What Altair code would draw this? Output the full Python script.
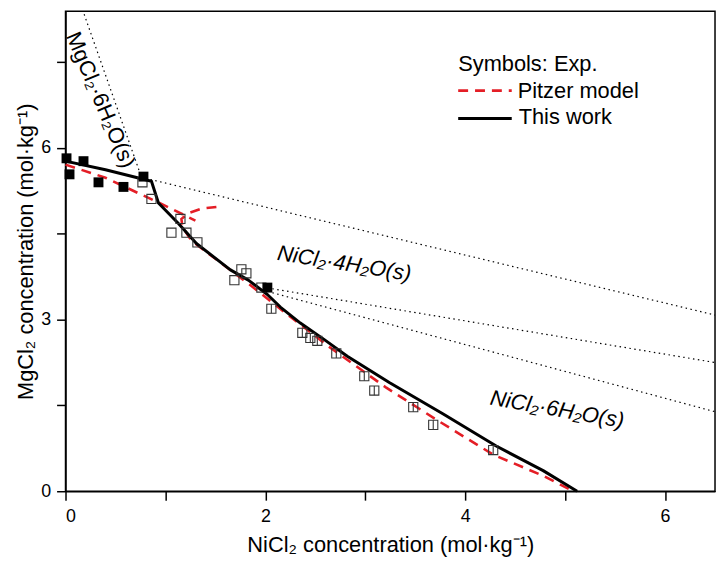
import altair as alt
import pandas as pd

# ---------------- data ----------------
# Experimental points, filled squares (MgCl2·6H2O branch + invariant points)
solid_x = [0.01, 0.04, 0.18, 0.33, 0.58, 0.78, 2.02]
solid_y = [5.82, 5.54, 5.77, 5.40, 5.32, 5.50, 3.56]

# Experimental points, open squares (NiCl2 hydrate branches)
open_x = [0.77, 0.86, 1.15, 1.06, 1.21, 1.32, 1.76, 1.81, 1.69, 1.96,
          2.06, 2.37, 2.45, 2.52, 2.71, 2.99, 3.09, 3.48, 3.68, 4.28]
open_y = [5.40, 5.11, 4.76, 4.52, 4.52, 4.35, 3.88, 3.81, 3.69, 3.56,
          3.19, 2.77, 2.68, 2.63, 2.41, 2.01, 1.76, 1.47, 1.16, 0.72]
# open squares drawn with a middle bar
barred = [False] * 10 + [True] * 10

# "This work" model curve
work_x = [0.00, 0.40, 0.86, 0.93, 1.13, 1.31, 1.65, 1.83, 2.02, 2.15, 2.35, 2.59, 2.82, 3.24, 3.78, 4.31, 4.78, 5.12]
work_y = [5.77, 5.62, 5.42, 5.04, 4.68, 4.33, 3.87, 3.69, 3.44, 3.22, 2.94, 2.65, 2.36, 1.90, 1.35, 0.79, 0.36, 0.00]

# Pitzer model, MgCl2·6H2O branch (with metastable extension)
pitz1_x = [0.00, 0.40, 0.73, 1.00, 1.30]
pitz1_y = [5.71, 5.48, 5.21, 4.99, 4.73]
# Pitzer model, NiCl2 hydrate branch
pitz2_x = [1.51, 1.36, 1.23, 1.16, 1.17, 1.26, 1.83, 2.25, 2.65, 3.21, 3.74, 4.28, 4.78, 5.08]
pitz2_y = [4.97, 4.94, 4.86, 4.76, 4.62, 4.38, 3.63, 3.05, 2.51, 1.81, 1.22, 0.64, 0.27, 0.00]

# Dotted extension lines (start/end)
dot_x = [[0.17, 0.75], [0.85, 6.50], [2.07, 6.50], [2.07, 6.50]]
dot_y = [[8.42, 5.54], [5.45, 3.08], [3.54, 2.25], [3.47, 1.39]]

# Phase labels
labels_text = ["MgCl₂·6H₂O(s)", "NiCl₂·4H₂O(s)", "NiCl₂·6H₂O(s)"]
labels_x = [0.35, 2.79, 4.92]
labels_y = [6.84, 3.98, 1.43]
labels_angle = [67, 9, 10]
labels_style = ["normal", "italic", "italic"]

legend_text = ["Symbols: Exp.", "Pitzer model", "This work"]

X_DOMAIN = [0, 6.5]
Y_DOMAIN = [0, 8.39]
FONT = "Liberation Sans"

# ---------------- build ----------------
xs = alt.Scale(domain=X_DOMAIN, nice=False, zero=False)
ys = alt.Scale(domain=Y_DOMAIN, nice=False, zero=False)

x_axis = alt.Axis(values=[0, 1, 2, 3, 4, 5, 6],
                  labelExpr="datum.value % 2 == 0 ? datum.label : ''",
                  title="NiCl₂ concentration (mol·kg⁻¹)",
                  grid=False, tickSize=9, tickWidth=1.5, domainWidth=1.5,
                  domainColor="black", tickColor="black",
                  labelFontSize=18, labelColor="black", labelFont=FONT,
                  labelPadding=8, titleFontSize=22, titleFont=FONT,
                  titleFontWeight="normal", titleColor="black", titlePadding=9)
y_axis = alt.Axis(values=[0, 1.5, 3, 4.5, 6, 7.5],
                  labelExpr="datum.value % 3 == 0 ? datum.label : ''",
                  title="MgCl₂ concentration (mol·kg⁻¹)",
                  grid=False, tickSize=9, tickWidth=1.5, domainWidth=1.5,
                  domainColor="black", tickColor="black",
                  labelFontSize=18, labelColor="black", labelFont=FONT,
                  labelPadding=6, titleFontSize=22, titleFont=FONT,
                  titleFontWeight="normal", titleColor="black", titlePadding=3)

def X(field="x"):
    return alt.X(f"{field}:Q", scale=xs, axis=x_axis)

def Y(field="y"):
    return alt.Y(f"{field}:Q", scale=ys, axis=y_axis)

# dotted lines
dot_rows = []
for k, (sx, sy) in enumerate(zip(dot_x, dot_y)):
    for i in range(2):
        dot_rows.append({"x": sx[i], "y": sy[i], "g": k, "i": i})
dot_df = pd.DataFrame(dot_rows)
dotted = alt.Chart(dot_df).mark_line(color="black", strokeWidth=1.2,
                                      strokeDash=[1.5, 3.5], clip=True).encode(
    x=X(), y=Y(), detail="g:N", order="i:Q")

work_df = pd.DataFrame({"x": work_x, "y": work_y, "i": range(len(work_x))})
p1 = pd.DataFrame({"x": pitz1_x, "y": pitz1_y, "i": range(len(pitz1_x)), "g": 1})
p2 = pd.DataFrame({"x": pitz2_x, "y": pitz2_y, "i": range(len(pitz2_x)), "g": 2})
pitz_df = pd.concat([p1, p2], ignore_index=True)

pitzer = alt.Chart(pitz_df).mark_line(color="#e41e26", strokeWidth=2.6,
                                      strokeDash=[10, 7]).encode(
    x=X(), y=Y(), detail="g:N", order="i:Q")
work = alt.Chart(work_df).mark_line(color="black", strokeWidth=3,
                                    strokeJoin="round").encode(
    x=X(), y=Y(), order="i:Q")

open_df = pd.DataFrame({"x": open_x, "y": open_y, "bar": barred})
open_pts = alt.Chart(open_df).mark_point(shape="square", size=85, filled=False,
                                         color="#333333", strokeWidth=1.1, opacity=1).encode(
    x=X(), y=Y())
bars = alt.Chart(open_df[open_df["bar"]]).mark_point(shape="M0,-1L0,1", size=85,
                                                     filled=False, color="#333333",
                                                     strokeWidth=1.1, opacity=1).encode(
    x=X(), y=Y())
solid_df = pd.DataFrame({"x": solid_x, "y": solid_y})
solid_pts = alt.Chart(solid_df).mark_point(shape="square", size=100, filled=True,
                                           color="black", opacity=1).encode(
    x=X(), y=Y())

label_layers = []
for t, lx, ly, ang, st in zip(labels_text, labels_x, labels_y, labels_angle, labels_style):
    ldf = pd.DataFrame({"x": [lx], "y": [ly], "t": [t]})
    label_layers.append(
        alt.Chart(ldf).mark_text(angle=ang, fontSize=22, font=FONT, fontStyle=st,
                                 align="center", baseline="middle", color="black").encode(
            x=X(), y=Y(), text="t:N"))

# legend (positions in pixels of the plot area)
leg_df = pd.DataFrame({"t": legend_text, "px": [396, 456, 457], "py": [53, 80, 107]})
leg_text = alt.Chart(leg_df).mark_text(fontSize=22, font=FONT, align="left",
                                       baseline="middle", color="black").encode(
    x=alt.X("px:Q", scale=None), y=alt.Y("py:Q", scale=None), text="t:N")
leg_red = alt.Chart(pd.DataFrame({"a": [0]})).mark_rule(
    color="#e41e26", strokeWidth=2.6, strokeDash=[10, 7]).encode(
    x=alt.value(396), x2=alt.value(450), y=alt.value(80))
leg_black = alt.Chart(pd.DataFrame({"a": [0]})).mark_rule(
    color="black", strokeWidth=3).encode(
    x=alt.value(396), x2=alt.value(450), y=alt.value(108))

chart = alt.layer(dotted, pitzer, work, open_pts, bars, solid_pts, *label_layers,
                  leg_text, leg_red, leg_black).properties(
    width=655, height=484,
    autosize=alt.AutoSizeParams(type="none"),
    padding={"left": 58, "top": 1, "right": 2, "bottom": 64},
    background="white",
).configure_view(stroke="black", strokeWidth=1.5)

chart.save("out.html", embed_options={"renderer": "svg", "actions": False})
